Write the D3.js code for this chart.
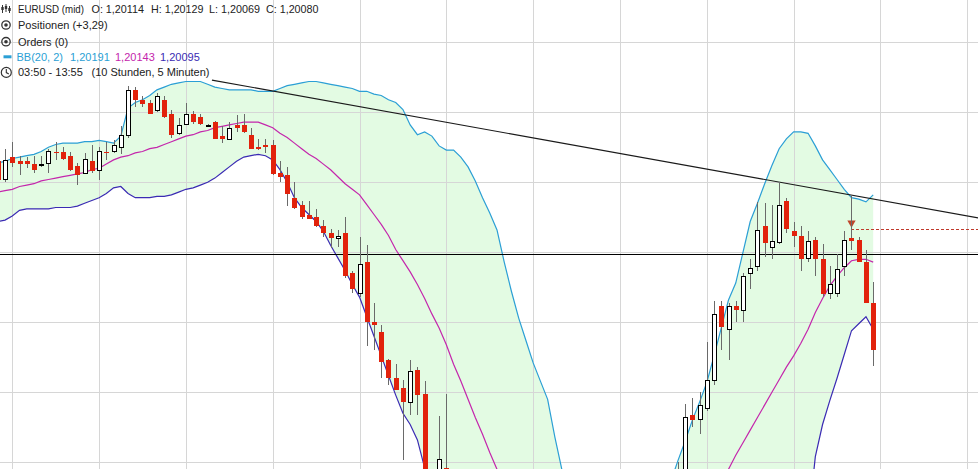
<!DOCTYPE html>
<html><head><meta charset="utf-8">
<script src="https://cdn.jsdelivr.net/npm/d3@7"></script>
<style>html,body{margin:0;padding:0;background:#fff;overflow:hidden}svg{display:block}</style>
</head><body><svg id="c" width="978" height="469"></svg>
<script>
// ---------------- DATA ----------------
const symbol = "EURUSD (mid)";
const startTime = "03:50";   // first (partly visible) candle
const endTime = "13:55";     // last candle
const candleMinutes = 5;

const opens = [
1.20215,1.20202,1.20218,1.20215,1.20215,1.20213,1.20212,1.20214,1.20222,1.20222,
1.20219,1.20212,1.20207,1.20215,1.20209,1.20222,1.20222,1.20225,1.20234,1.20266,
1.20259,1.20257,1.20252,1.20259,1.20249,1.20235,1.20242,1.20249,1.20247,1.20241,
1.20243,1.20233,1.20231,1.20241,1.20241,1.20234,1.20225,1.20227,1.20227,1.20207,
1.20205,1.20189,1.20184,1.20177,1.20175,1.20169,1.20164,1.20160,1.20164,1.20135,
1.20121,1.20143,1.20100,1.20093,1.20073,1.20060,1.20053,1.20043,1.20066,1.20049,
1.19980,1.19970,1.19996,1.19960,1.19938,1.19920,1.19928,1.19905,1.19890,1.19902,
1.19878,1.19895,1.19885,1.19872,1.19888,1.19882,1.19870,1.19875,1.19892,1.19882,
1.19898,1.19890,1.19905,1.19895,1.19910,1.19922,1.19912,1.19925,1.19938,1.19930,
1.19945,1.19952,1.19960,1.19970,1.19980,1.19990,1.20034,1.20031,1.20039,1.20059,
1.20112,1.20095,1.20112,1.20109,1.20135,1.20140,1.20169,1.20154,1.20157,1.20187,
1.20165,1.20162,1.20146,1.20159,1.20145,1.20121,1.20121,1.20140,1.20160,1.20159,
1.20143,1.20114];
const highs = [
1.20219,1.20224,1.20229,1.20219,1.20218,1.20219,1.20219,1.20224,1.20229,1.20225,
1.20222,1.20214,1.20221,1.20227,1.20225,1.20229,1.20230,1.20240,1.20269,1.20268,
1.20262,1.20259,1.20264,1.20262,1.20252,1.20246,1.20257,1.20251,1.20249,1.20242,
1.20244,1.20240,1.20243,1.20248,1.20249,1.20239,1.20231,1.20231,1.20230,1.20215,
1.20211,1.20200,1.20187,1.20187,1.20181,1.20173,1.20167,1.20166,1.20175,1.20137,
1.20161,1.20155,1.20114,1.20098,1.20074,1.20070,1.20059,1.20073,1.20068,1.20058,
1.19990,1.20033,1.20049,1.19975,1.19952,1.19940,1.19945,1.19920,1.19910,1.19915,
1.19900,1.19912,1.19905,1.19895,1.19908,1.19900,1.19890,1.19900,1.19910,1.19902,
1.19915,1.19912,1.19920,1.19915,1.19930,1.19938,1.19930,1.19945,1.19955,1.19950,
1.19962,1.19970,1.19978,1.19988,1.20000,1.20042,1.20046,1.20050,1.20086,1.20115,
1.20115,1.20114,1.20115,1.20135,1.20145,1.20186,1.20185,1.20184,1.20200,1.20189,
1.20172,1.20169,1.20165,1.20161,1.20156,1.20140,1.20149,1.20165,1.20191,1.20161,
1.20152,1.20129];
const lows = [
1.20199,1.20200,1.20211,1.20205,1.20210,1.20207,1.20211,1.20207,1.20216,1.20216,
1.20208,1.20198,1.20206,1.20207,1.20202,1.20216,1.20221,1.20220,1.20232,1.20254,
1.20254,1.20249,1.20250,1.20246,1.20232,1.20234,1.20241,1.20242,1.20241,1.20240,
1.20231,1.20228,1.20231,1.20236,1.20235,1.20224,1.20223,1.20221,1.20205,1.20200,
1.20183,1.20181,1.20174,1.20174,1.20168,1.20161,1.20153,1.20154,1.20132,1.20121,
1.20118,1.20083,1.20080,1.20060,1.20055,1.20052,1.20002,1.20034,1.20034,1.19970,
1.19955,1.19965,1.19952,1.19930,1.19915,1.19905,1.19900,1.19882,1.19875,1.19870,
1.19860,1.19880,1.19865,1.19855,1.19875,1.19862,1.19850,1.19868,1.19875,1.19870,
1.19885,1.19878,1.19888,1.19882,1.19900,1.19905,1.19902,1.19915,1.19920,1.19922,
1.19932,1.19940,1.19948,1.19958,1.19972,1.19984,1.20025,1.20020,1.20037,1.20055,
1.20080,1.20073,1.20100,1.20100,1.20124,1.20137,1.20147,1.20145,1.20156,1.20164,
1.20154,1.20137,1.20143,1.20133,1.20118,1.20117,1.20118,1.20133,1.20152,1.20143,
1.20114,1.20069];
const closes = [
1.20202,1.20216,1.20214,1.20213,1.20213,1.20209,1.20213,1.20222,1.20221,1.20217,
1.20209,1.20205,1.20217,1.20208,1.20222,1.20221,1.20227,1.20234,1.20266,1.20259,
1.20256,1.20249,1.20262,1.20247,1.20234,1.20241,1.20249,1.20243,1.20242,1.20241,
1.20231,1.20231,1.20239,1.20239,1.20236,1.20224,1.20224,1.20225,1.20206,1.20204,
1.20192,1.20182,1.20175,1.20174,1.20169,1.20164,1.20160,1.20162,1.20133,1.20124,
1.20142,1.20100,1.20098,1.20072,1.20060,1.20052,1.20043,1.20065,1.20048,1.19980,
1.19962,1.20002,1.19960,1.19938,1.19920,1.19928,1.19905,1.19890,1.19902,1.19878,
1.19895,1.19885,1.19872,1.19888,1.19882,1.19870,1.19875,1.19892,1.19882,1.19898,
1.19890,1.19905,1.19895,1.19910,1.19922,1.19912,1.19925,1.19938,1.19930,1.19945,
1.19952,1.19960,1.19970,1.19980,1.19990,1.20032,1.20030,1.20041,1.20059,1.20106,
1.20097,1.20112,1.20109,1.20133,1.20139,1.20166,1.20157,1.20158,1.20184,1.20167,
1.20162,1.20145,1.20158,1.20145,1.20120,1.20127,1.20138,1.20159,1.20158,1.20143,
1.20114,1.20080];

// Bollinger Bands (20, 2)
const bbUpper = [
1.20214,1.20215,1.20217,1.20218,1.20219,1.20220,1.20222,1.20225,1.20227,1.20228,
1.20228,1.20228,1.20229,1.20229,1.20230,1.20229,1.20228,1.20233,1.20253,1.20257,
1.20259,1.20262,1.20266,1.20268,1.20270,1.20271,1.20272,1.20272,1.20272,1.20270,
1.20268,1.20267,1.20266,1.20266,1.20266,1.20266,1.20265,1.20265,1.20265,1.20267,
1.20269,1.20270,1.20271,1.20272,1.20272,1.20271,1.20270,1.20269,1.20268,1.20267,
1.20265,1.20265,1.20263,1.20262,1.20259,1.20257,1.20252,1.20241,1.20234,1.20236,
1.20233,1.20226,1.20223,1.20223,1.20218,1.20211,1.20201,1.20189,1.20178,1.20166,
1.20143,1.20122,1.20103,1.20087,1.20071,1.20058,1.20045,1.20018,1.19994,1.19973,
1.19955,1.19944,1.19939,1.19936,1.19936,1.19939,1.19944,1.19952,1.19959,1.19966,
1.19973,1.19979,1.19982,1.19986,1.20001,1.20015,1.20030,1.20043,1.20057,1.20076,
1.20096,1.20116,1.20128,1.20150,1.20172,1.20185,1.20199,1.20212,1.20224,1.20231,
1.20236,1.20236,1.20235,1.20226,1.20216,1.20209,1.20202,1.20195,1.20189,1.20188,
1.20186,1.20191];
const bbMiddle = [
1.20193,1.20194,1.20195,1.20197,1.20198,1.20199,1.20201,1.20202,1.20203,1.20204,
1.20205,1.20206,1.20207,1.20209,1.20210,1.20213,1.20216,1.20218,1.20219,1.20221,
1.20222,1.20224,1.20225,1.20227,1.20229,1.20231,1.20233,1.20234,1.20236,1.20237,
1.20239,1.20240,1.20241,1.20242,1.20243,1.20243,1.20243,1.20241,1.20239,1.20235,
1.20232,1.20228,1.20224,1.20220,1.20217,1.20213,1.20209,1.20204,1.20199,1.20195,
1.20191,1.20184,1.20177,1.20170,1.20162,1.20152,1.20144,1.20136,1.20127,1.20117,
1.20106,1.20096,1.20084,1.20070,1.20058,1.20045,1.20032,1.20020,1.20007,1.19995,
1.19983,1.19972,1.19962,1.19952,1.19944,1.19937,1.19932,1.19927,1.19923,1.19920,
1.19918,1.19917,1.19916,1.19916,1.19917,1.19918,1.19920,1.19923,1.19926,1.19929,
1.19933,1.19937,1.19942,1.19947,1.19952,1.19957,1.19963,1.19969,1.19974,1.19980,
1.19987,1.19995,1.20005,1.20014,1.20023,1.20032,1.20041,1.20050,1.20059,1.20068,
1.20076,1.20085,1.20095,1.20107,1.20117,1.20126,1.20133,1.20139,1.20144,1.20145,
1.20145,1.20143];
const bbLower = [
1.20172,1.20173,1.20176,1.20180,1.20181,1.20181,1.20181,1.20181,1.20182,1.20182,
1.20182,1.20183,1.20185,1.20187,1.20189,1.20192,1.20196,1.20197,1.20192,1.20189,
1.20189,1.20189,1.20190,1.20190,1.20191,1.20193,1.20195,1.20196,1.20198,1.20200,
1.20203,1.20207,1.20211,1.20215,1.20218,1.20219,1.20220,1.20219,1.20216,1.20209,
1.20200,1.20189,1.20182,1.20177,1.20172,1.20165,1.20155,1.20146,1.20137,1.20127,
1.20118,1.20104,1.20090,1.20076,1.20062,1.20048,1.20035,1.20027,1.20016,1.19996,
1.19977,1.19966,1.19945,1.19917,1.19898,1.19880,1.19864,1.19850,1.19836,1.19824,
1.19823,1.19822,1.19820,1.19818,1.19819,1.19817,1.19818,1.19835,1.19852,1.19867,
1.19881,1.19889,1.19893,1.19896,1.19897,1.19897,1.19896,1.19895,1.19893,1.19893,
1.19893,1.19896,1.19901,1.19907,1.19902,1.19900,1.19897,1.19895,1.19892,1.19885,
1.19877,1.19875,1.19882,1.19879,1.19875,1.19879,1.19883,1.19887,1.19893,1.19905,
1.19917,1.19933,1.19955,1.20004,1.20027,1.20044,1.20060,1.20077,1.20094,1.20099,
1.20104,1.20095];

const priceGrid = [1.2000, 1.2005, 1.2010, 1.2015, 1.2020, 1.2025, 1.2030];
const hourGridFrom = "04:00", hourGridTo = "15:00";
const horizontalLinePrice = 1.20149;
const trendTimes = ["06:18", "15:08"];
const trendPrices = [1.20273, 1.201745];
const orderTime = "13:40";
const orderLinePrice = 1.20167;
const orderMarkerPrice = 1.20171;
const positionsText = "Positionen (+3,29)";
const ordersText = "Orders (0)";
const bbLabel = "BB(20, 2)";
const durationText = "(10 Stunden, 5 Minuten)";

// ---------------- CHART ----------------
const W = 978, H = 469;
const svg = d3.select("#c");
const parse = d3.timeParse("%H:%M");
const t0 = parse(startTime);
const times = opens.map((_, k) => d3.timeMinute.offset(t0, k * candleMinutes));

const x = d3.scaleTime().domain([t0, parse(endTime)]).range([-2.2, 873.2]);
const y = d3.scaleLinear().domain([1.2000, 1.2030]).range([462.3, 42.3]);

const C = {
  fill: "#e3fbe3", grid: "#d6d6d6", upper: "#2b9fd5", middle: "#c426ac",
  lower: "#3a2bb3", red: "#e2220c", wick: "#6a6a6a", text: "#222"
};

svg.append("rect").attr("width", W).attr("height", H).attr("fill", "#fff");

const idx = d3.range(opens.length);
// band fill
svg.append("path")
  .attr("d", d3.area().x(i => x(times[i])).y0(i => y(bbLower[i])).y1(i => y(bbUpper[i]))(idx))
  .attr("fill", C.fill);

// grid
const g = svg.append("g").attr("shape-rendering", "crispEdges");
g.selectAll(".hg").data(priceGrid).join("line")
  .attr("x1", 0).attr("x2", W)
  .attr("y1", d => Math.round(y(d)) + 0.5).attr("y2", d => Math.round(y(d)) + 0.5)
  .attr("stroke", C.grid);
g.selectAll(".vg").data(d3.timeHour.range(parse(hourGridFrom), d3.timeMinute.offset(parse(hourGridTo), 1))).join("line")
  .attr("y1", 0).attr("y2", H)
  .attr("x1", d => Math.round(x(d)) + 0.5).attr("x2", d => Math.round(x(d)) + 0.5)
  .attr("stroke", C.grid);

// bands
const bandLine = arr => d3.line().x(i => x(times[i])).y(i => y(arr[i]))(idx);
[[bbUpper, C.upper], [bbMiddle, C.middle], [bbLower, C.lower]].forEach(([arr, col]) => {
  svg.append("path").attr("d", bandLine(arr)).attr("fill", "none")
    .attr("stroke", col).attr("stroke-width", 1.2);
});

// horizontal line
svg.append("line").attr("x1", 0).attr("x2", W)
  .attr("y1", Math.round(y(horizontalLinePrice)) + 0.5).attr("y2", Math.round(y(horizontalLinePrice)) + 0.5)
  .attr("stroke", "#000").attr("shape-rendering", "crispEdges");

// trend line
svg.append("line")
  .attr("x1", x(parse(trendTimes[0]))).attr("y1", y(trendPrices[0]))
  .attr("x2", x(parse(trendTimes[1]))).attr("y2", y(trendPrices[1]))
  .attr("stroke", "#1a1a1a").attr("stroke-width", 1.1);

// order line + marker
const ox = x(parse(orderTime));
svg.append("line").attr("x1", ox).attr("x2", W)
  .attr("y1", Math.round(y(orderLinePrice)) + 0.5).attr("y2", Math.round(y(orderLinePrice)) + 0.5)
  .attr("stroke", "#c0392b").attr("stroke-dasharray", "3,2").attr("shape-rendering", "crispEdges");
svg.append("path")
  .attr("d", d3.symbol(d3.symbolTriangle, 30)())
  .attr("transform", `translate(${ox},${y(orderMarkerPrice)}) rotate(180)`)
  .attr("fill", "#c0452a");

// candles
const cg = svg.append("g").attr("shape-rendering", "crispEdges");
idx.forEach(i => {
  const cx = Math.round(x(times[i]));
  const o = opens[i], c = closes[i];
  cg.append("line").attr("x1", cx + 0.5).attr("x2", cx + 0.5)
    .attr("y1", y(highs[i])).attr("y2", y(lows[i])).attr("stroke", C.wick);
  const top = y(Math.max(o, c)), bot = y(Math.min(o, c));
  if (c < o) {
    cg.append("rect").attr("x", cx - 2).attr("y", top).attr("width", 5)
      .attr("height", Math.max(1, bot - top)).attr("fill", C.red);
  } else if (c > o) {
    cg.append("rect").attr("x", cx - 1.5).attr("y", Math.round(top) + 0.5).attr("width", 4)
      .attr("height", Math.max(1, Math.round(bot) - Math.round(top))).attr("fill", "#fff")
      .attr("stroke", "#000");
  } else {
    cg.append("line").attr("x1", cx - 2).attr("x2", cx + 3)
      .attr("y1", Math.round(top) + 0.5).attr("y2", Math.round(top) + 0.5).attr("stroke", "#000").attr("stroke-width", 2);
  }
});

// legend
const fmt = v => v.toFixed(5).replace(".", ",");
const n = opens.length - 1;
const L = svg.append("g").attr("font-family", "'Liberation Sans', Arial, sans-serif")
  .attr("font-size", 11).attr("fill", C.text);
const txt = (s, tx, ty, col, len) => {
  const t = L.append("text").attr("x", tx).attr("y", ty).attr("fill", col || C.text).text(s);
  if (len) t.attr("textLength", len).attr("lengthAdjust", "spacingAndGlyphs");
  return t;
};
txt(symbol, 18, 12.5, null, 66);
txt("O: " + fmt(opens[n]), 91.5, 12.5, null, 52.5);
txt("H: " + fmt(highs[n]), 151, 12.5, null, 52.5);
txt("L: " + fmt(lows[n]), 209, 12.5, null, 51);
txt("C: " + fmt(closes[n]), 266, 12.5, null, 52.5);
txt(positionsText, 18, 29);
txt(ordersText, 18, 45.7);
txt(bbLabel, 16.5, 60.7, C.upper);
txt(fmt(bbUpper[n]), 70, 60.7, C.upper);
txt(fmt(bbMiddle[n]), 115, 60.7, C.middle);
txt(fmt(bbLower[n]), 160, 60.7, C.lower);
txt(startTime + " - " + endTime, 18, 76.3);
txt(durationText, 91.5, 76.3);

// icons
const ic = svg.append("g").attr("stroke", "#333").attr("fill", "none");
[[2.5, 5, 13, 7, 10], [6, 4, 12, 6, 9], [9.5, 6, 13, 8, 11]].forEach(([ix, a, b, c1, c2]) => {
  ic.append("line").attr("x1", ix).attr("x2", ix).attr("y1", a).attr("y2", b).attr("stroke-width", 1);
  ic.append("rect").attr("x", ix - 1.2).attr("y", c1).attr("width", 2.4).attr("height", c2 - c1).attr("fill", "#333").attr("stroke", "none");
});
[25, 41.7].forEach(cy => {
  ic.append("circle").attr("cx", 6).attr("cy", cy).attr("r", 4.2).attr("stroke-width", 1.3);
  ic.append("circle").attr("cx", 6).attr("cy", cy).attr("r", 1.8).attr("fill", "#333").attr("stroke", "none");
});
svg.append("rect").attr("x", 3.5).attr("y", 55.3).attr("width", 8).attr("height", 3).attr("fill", C.upper);
ic.append("circle").attr("cx", 6.3).attr("cy", 72.4).attr("r", 5).attr("stroke-width", 1.2);
ic.append("polyline").attr("points", "6.3,69 6.3,72.6 8.8,74").attr("stroke-width", 1.1);
</script></body></html>
